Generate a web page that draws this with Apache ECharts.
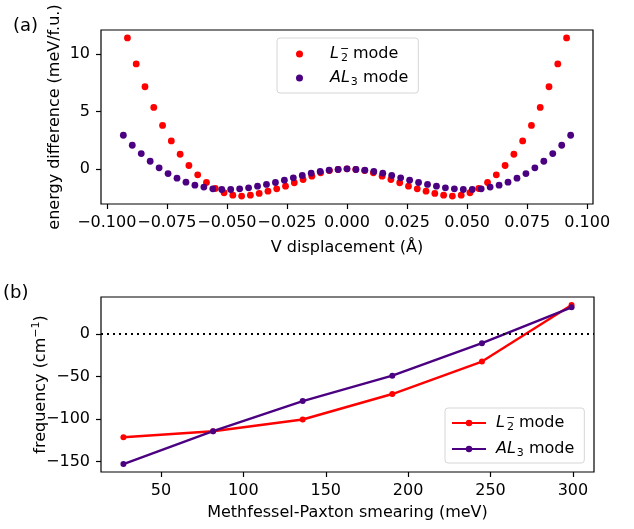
<!DOCTYPE html>
<html>
<head>
<meta charset="utf-8">
<script src="https://cdn.jsdelivr.net/npm/echarts@6/dist/echarts.min.js"></script>
<style>
    html, body {margin: 0; padding: 0; background: #fff;}
    #chart-main {width: 634px; height: 529px;}
</style>
</head>
<body>
<div id="chart-main"></div>
<script>
// panel (a): energy difference vs V displacement
let dispL2 = [-0.0914, -0.08774, -0.08409, -0.08043, -0.07678, -0.07312, -0.06946, -0.06581, -0.06215, -0.0585,
    -0.05484, -0.05118, -0.04753, -0.04387, -0.04022, -0.03656, -0.0329, -0.02925, -0.02559, -0.02194,
    -0.01828, -0.01462, -0.01097, -0.00731, -0.00366, 0,
    0.00366, 0.00731, 0.01097, 0.01462, 0.01828, 0.02194, 0.02559, 0.02925, 0.0329, 0.03656,
    0.04022, 0.04387, 0.04753, 0.05118, 0.05484, 0.0585, 0.06215, 0.06581, 0.06946, 0.07312,
    0.07678, 0.08043, 0.08409, 0.08774, 0.0914];
let energyL2 = [11.39, 9.13, 7.14, 5.34, 3.78, 2.43, 1.27, 0.29, -0.52, -1.19,
    -1.71, -2.08, -2.29, -2.37, -2.29, -2.14, -1.94, -1.74, -1.51, -1.21,
    -0.93, -0.64, -0.35, -0.15, -0.06, 0,
    -0.06, -0.15, -0.35, -0.64, -0.93, -1.21, -1.51, -1.74, -1.94, -2.14,
    -2.29, -2.37, -2.29, -2.08, -1.71, -1.19, -0.52, 0.29, 1.27, 2.43,
    3.78, 5.34, 7.14, 9.13, 11.39];
let dispAL3 = [-0.0931, -0.08938, -0.08565, -0.08193, -0.0782, -0.07448, -0.07076, -0.06703, -0.06331, -0.05958,
    -0.05586, -0.05214, -0.04841, -0.04469, -0.04096, -0.03724, -0.03352, -0.02979, -0.02607, -0.02234,
    -0.01862, -0.0149, -0.01117, -0.00745, -0.00372, 0,
    0.00372, 0.00745, 0.01117, 0.0149, 0.01862, 0.02234, 0.02607, 0.02979, 0.03352, 0.03724,
    0.04096, 0.04469, 0.04841, 0.05214, 0.05586, 0.05958, 0.06331, 0.06703, 0.07076, 0.07448,
    0.0782, 0.08193, 0.08565, 0.08938, 0.0931];
let energyAL3 = [2.92, 2.05, 1.33, 0.66, 0.09, -0.41, -0.81, -1.16, -1.42, -1.59,
    -1.74, -1.80, -1.80, -1.74, -1.65, -1.51, -1.36, -1.19, -0.99, -0.78,
    -0.58, -0.38, -0.23, -0.12, -0.06, 0,
    -0.06, -0.12, -0.23, -0.38, -0.58, -0.78, -0.99, -1.19, -1.36, -1.51,
    -1.65, -1.74, -1.80, -1.80, -1.74, -1.59, -1.42, -1.16, -0.81, -0.41,
    0.09, 0.66, 1.33, 2.05, 2.92];

// panel (b): phonon frequency vs smearing
let smearing = [27.2, 81.6, 136.0, 190.4, 244.8, 299.2];
let freqL2 = [-121.4, -114.3, -100.5, -70.5, -32.3, 34.3];
let freqAL3 = [-152.9, -114.3, -78.8, -48.9, -10.6, 31.6];

let ticksDispX = [-0.1, -0.075, -0.05, -0.025, 0, 0.025, 0.05, 0.075, 0.1];
let ticksEnergyY = [0, 5, 10];
let ticksSmearX = [50, 100, 150, 200, 250, 300];
let ticksFreqY = [-150, -100, -50, 0];

let colorL2 = '#ff0000', colorAL3 = '#4b0082';
let fontMain = 'DejaVu Sans';

function pairs(xs, ys) {
    return xs.map((x, i) => [x, ys[i]]);
}

function minusSign(s) {
    return String(s).replace('-', '\u2212');
}

let richMath = {
    t: {fontFamily: fontMain, fontSize: 16, color: '#000', lineHeight: 20, verticalAlign: 'middle'},
    i: {fontFamily: fontMain, fontStyle: 'italic', fontSize: 16, color: '#000', lineHeight: 20, verticalAlign: 'middle'},
    sb: {fontFamily: fontMain, fontSize: 11, color: '#000', lineHeight: 20, verticalAlign: 'bottom', padding: [0, 0, 0, 1]},
    sp: {fontFamily: fontMain, fontSize: 11, color: '#000', lineHeight: 20, verticalAlign: 'top', width: 0, padding: [0, 0, 0, 1]},
    su: {fontFamily: fontMain, fontSize: 11, color: '#000', lineHeight: 20, verticalAlign: 'top'},
    g: {width: 22},
    g2: {width: 5}
};

function legendLabel(name, gap) {
    if (name === 'L2') return '{' + gap + '| }{i|L}{sp|\u2212}{sb|2}{t| mode}';
    return '{' + gap + '| }{i|AL}{sb|3}{t| mode}';
}

function axisCommon(ticks, fmt) {
    return {
        axisLine: {show: false, onZero: false},
        splitLine: {show: false},
        axisTick: {show: true, length: 5, customValues: ticks, lineStyle: {color: '#000', width: 1.2}},
        axisLabel: {
            customValues: ticks, margin: 11, color: '#000', fontFamily: fontMain, fontSize: 16,
            formatter: fmt
        },
        nameTextStyle: {color: '#000', fontFamily: fontMain, fontSize: 16}
    };
}

let myChart = echarts.init(document.getElementById('chart-main'), null, {renderer: 'canvas'});

let option = {
    backgroundColor: '#fff',
    animation: false,
    textStyle: {fontFamily: fontMain},
    grid: [
        {left: 101, top: 30, width: 492, height: 174, show: true, borderColor: '#000', borderWidth: 1.2},
        {left: 101, top: 297, width: 493, height: 175, show: true, borderColor: '#000', borderWidth: 1.2}
    ],
    xAxis: [
        Object.assign(axisCommon(ticksDispX, v => minusSign(v.toFixed(3))), {
            type: 'value', gridIndex: 0, min: -0.1024, max: 0.1024,
            name: 'V displacement (\u00c5)', nameLocation: 'middle', nameGap: 36
        }),
        Object.assign(axisCommon(ticksSmearX, v => minusSign(v)), {
            type: 'value', gridIndex: 1, min: 13.6, max: 312.8,
            name: 'Methfessel-Paxton smearing (meV)', nameLocation: 'middle', nameGap: 33
        })
    ],
    yAxis: [
        Object.assign(axisCommon(ticksEnergyY, v => minusSign(v)), {
            type: 'value', gridIndex: 0, min: -3.06, max: 12.08,
            name: 'energy difference (meV/f.u.)', nameLocation: 'middle', nameRotate: 90, nameGap: 38,
            nameMoveOverlap: false
        }),
        Object.assign(axisCommon(ticksFreqY, v => minusSign(v)), {
            type: 'value', gridIndex: 1, min: -162.3, max: 43.7,
            name: '{t|frequency (cm}{su|\u22121}{t|)}', nameLocation: 'middle', nameRotate: 90, nameGap: 50,
            nameMoveOverlap: false,
            nameTextStyle: {rich: richMath}
        })
    ],
    legend: [
        {
            data: ['L2', 'AL3'].map(n => ({name: n})),
            orient: 'vertical', left: 277, top: 38,
            padding: [6, 10, 5, 19], itemGap: 6,
            itemWidth: 7, itemHeight: 7,
            backgroundColor: 'rgba(255,255,255,0.8)', borderColor: '#d6d6d6', borderWidth: 1, borderRadius: 3,
            formatter: name => legendLabel(name, 'g'),
            textStyle: {rich: richMath},
            selectedMode: false
        },
        {
            data: [{name: 'L2 '}, {name: 'AL3 '}],
            orient: 'vertical', left: 445, top: 408,
            padding: [5, 10, 4, 6], itemGap: 8,
            itemWidth: 34, itemHeight: 8,
            backgroundColor: 'rgba(255,255,255,0.8)', borderColor: '#d6d6d6', borderWidth: 1, borderRadius: 3,
            formatter: name => legendLabel(name.trim(), 'g2'),
            textStyle: {rich: richMath},
            selectedMode: false
        }
    ],
    graphic: [
        {type: 'text', left: 13, top: 17, style: {text: '(a)', fontFamily: fontMain, fontSize: 18, fill: '#000'}},
        {type: 'text', left: 3, top: 284, style: {text: '(b)', fontFamily: fontMain, fontSize: 18, fill: '#000'}}
    ],
    series: [
        {
            name: 'L2', type: 'scatter', xAxisIndex: 0, yAxisIndex: 0,
            symbol: 'circle', symbolSize: 6.8, itemStyle: {color: colorL2, opacity: 1},
            data: pairs(dispL2, energyL2)
        },
        {
            name: 'AL3', type: 'scatter', xAxisIndex: 0, yAxisIndex: 0,
            symbol: 'circle', symbolSize: 6.8, itemStyle: {color: colorAL3, opacity: 1},
            data: pairs(dispAL3, energyAL3)
        },
        {
            name: 'L2 ', type: 'line', xAxisIndex: 1, yAxisIndex: 1,
            symbol: 'circle', symbolSize: 6, itemStyle: {color: colorL2},
            lineStyle: {color: colorL2, width: 2.4},
            data: pairs(smearing, freqL2),
            markLine: {
                silent: true, symbol: 'none', label: {show: false},
                lineStyle: {color: '#000', type: [2, 4], width: 2},
                data: [{yAxis: 0}]
            }
        },
        {
            name: 'AL3 ', type: 'line', xAxisIndex: 1, yAxisIndex: 1,
            symbol: 'circle', symbolSize: 6, itemStyle: {color: colorAL3},
            lineStyle: {color: colorAL3, width: 2.4},
            data: pairs(smearing, freqAL3)
        }
    ]
};

option && myChart.setOption(option);
</script>
</body>
</html>
